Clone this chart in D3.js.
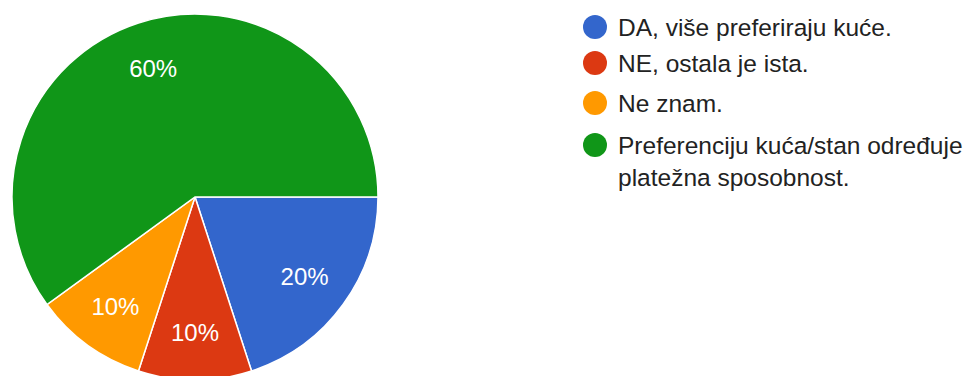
<!DOCTYPE html>
<html><head><meta charset="utf-8">
<script src="https://cdn.jsdelivr.net/npm/d3@7"></script>
<style>html,body{margin:0;padding:0;background:#fff;overflow:hidden}</style>
</head><body>
<svg id="c" width="968" height="376"></svg>
<script>
const categories = ["DA, više preferiraju kuće.", "NE, ostala je ista.", "Ne znam.", "Preferenciju kuća/stan određuje platežna sposobnost."];
const legendLines = [["DA, više preferiraju kuće."], ["NE, ostala je ista."], ["Ne znam."], ["Preferenciju kuća/stan određuje", "platežna sposobnost."]];
const values = [20, 10, 10, 60];
const colors = ["#3366cc", "#dc3912", "#ff9900", "#109618"];

const svg = d3.select("#c");
const cx = 195, cy = 197, r = 183;
const font = "'Liberation Sans', Arial, sans-serif";

const pie = d3.pie().sort(null).value(d => d)
  .startAngle(Math.PI / 2).endAngle(Math.PI / 2 + 2 * Math.PI);
const arcs = pie(values);
const arc = d3.arc().innerRadius(0).outerRadius(r);
const labelArc = d3.arc().innerRadius(r * 0.74).outerRadius(r * 0.74);
const total = d3.sum(values);

const g = svg.append("g").attr("transform", `translate(${cx},${cy})`);
g.selectAll("path").data(arcs).join("path")
  .attr("d", arc)
  .attr("fill", (d, i) => colors[i])
  .attr("stroke", "#fff").attr("stroke-width", 1.5);

g.selectAll("text").data(arcs).join("text")
  .attr("transform", d => `translate(${labelArc.centroid(d)})`)
  .attr("text-anchor", "middle").attr("dy", "0.36em")
  .attr("fill", "#fff").attr("font-family", font).attr("font-size", 24)
  .text(d => Math.round(d.value / total * 100) + "%");

const lg = svg.append("g");
const rowY = [27, 63, 103, 145];
legendLines.forEach((lines, i) => {
  const row = lg.append("g").attr("transform", `translate(595,${rowY[i]})`);
  row.append("circle").attr("r", 12).attr("fill", colors[i]);
  lines.forEach((t, j) => {
    row.append("text").attr("x", 23).attr("y", j * 32).attr("dy", "0.36em")
      .attr("fill", "#222").attr("font-family", font).attr("font-size", 24.5)
      .text(t);
  });
});
</script>
</body></html>
